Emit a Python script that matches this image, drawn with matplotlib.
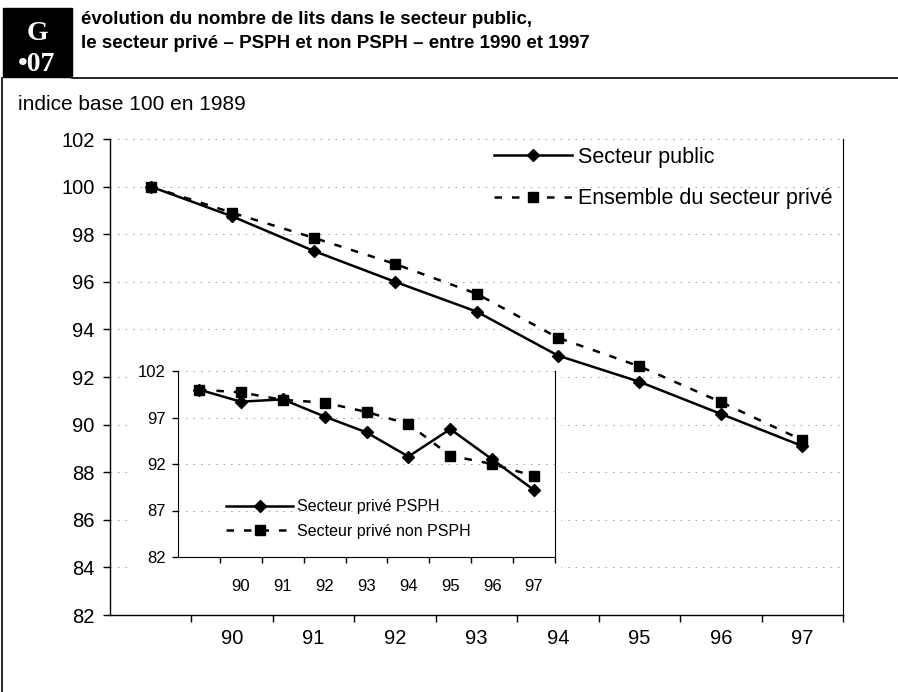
import matplotlib
matplotlib.use("Agg")
import matplotlib.pyplot as plt
from matplotlib.patches import Rectangle
from matplotlib.lines import Line2D

plt.rcParams['font.family'] = ['Liberation Sans', 'DejaVu Sans']

# ---- data ----
categories = ['', '90', '91', '92', '93', '94', '95', '96', '97']
public = [100, 98.75, 97.3, 96.0, 94.75, 92.9, 91.8, 90.45, 89.1]
prive_total = [100, 98.9, 97.85, 96.75, 95.5, 93.65, 92.45, 90.95, 89.35]
psph = [100, 98.7, 98.95, 97.1, 95.4, 92.8, 95.75, 92.5, 89.2]
non_psph = [100, 99.7, 98.9, 98.6, 97.6, 96.3, 92.9, 92.0, 90.7]
main_yticks = [82, 84, 86, 88, 90, 92, 94, 96, 98, 100, 102]
inset_yticks = [82, 87, 92, 97, 102]

W, H = 898, 692
fig = plt.figure(figsize=(W / 100, H / 100), dpi=100)

def fx(px):
    return px / W

def fy(py):
    return 1 - py / H

# ---- header ----
fig.patches.append(Rectangle((fx(3), fy(77)), fx(69), (77 - 8) / H,
                             transform=fig.transFigure, color='black', zorder=5))
fig.text(fx(37), fy(40), 'G', color='white', family='Liberation Serif',
         fontweight='bold', fontsize=20, ha='center', va='baseline', zorder=6)
fig.text(fx(37), fy(71), '•07', color='white', family='Liberation Serif',
         fontweight='bold', fontsize=20, ha='center', va='baseline', zorder=6)
fig.text(fx(81), fy(19), 'évolution du nombre de lits dans le secteur public,',
         fontsize=13.5, fontweight='bold', ha='left', va='center')
fig.text(fx(81), fy(43), 'le secteur privé – PSPH et non PSPH – entre 1990 et 1997',
         fontsize=13.5, fontweight='bold', ha='left', va='center')
fig.lines.append(Line2D([fx(72), 1], [fy(78), fy(78)], transform=fig.transFigure,
                        color='black', lw=1.2))
fig.lines.append(Line2D([fx(2), fx(2)], [fy(78), 0], transform=fig.transFigure,
                        color='black', lw=1.2))
fig.text(fx(18), fy(105), 'indice base 100 en 1989', fontsize=15, ha='left', va='center')

# ---- main axes ----
ax = fig.add_axes([fx(110), fy(615), fx(843 - 110), (615 - 139) / H])
x = list(range(len(categories)))
ax.plot(x, public, color='black', lw=1.8, marker='D', ms=6, label='Secteur public', zorder=3)
ax.plot(x, prive_total, color='black', lw=1.8, ls=(0, (3, 4)), marker='s', ms=7,
        label='Ensemble du secteur privé', zorder=3)
ax.set_xlim(-0.5, len(categories) - 0.5)
ax.set_ylim(82, 102)
ax.set_yticks(main_yticks)
ax.set_yticklabels([str(v) for v in main_yticks], fontsize=14.5)
ax.set_xticks([i + 0.5 for i in range(len(categories) - 1)] + [len(categories) - 0.5])
ax.set_xticklabels([])
ax.set_xticks(x, minor=True)
ax.set_xticklabels(categories, minor=True, fontsize=14.5)
ax.tick_params(axis='x', which='major', direction='out', length=5, width=1)
ax.tick_params(axis='x', which='minor', length=0, pad=10)
ax.tick_params(axis='y', direction='out', length=5, width=1, pad=6)
ax.grid(axis='y', color='#999999', lw=0.6, ls=(0, (2, 7)))
ax.spines['top'].set_visible(False)
ax.spines['right'].set_linewidth(0.8)
ax.spines['left'].set_linewidth(1.0)
ax.spines['bottom'].set_linewidth(1.0)
ax.legend(loc='upper left', bbox_to_anchor=(fx(494 - 110) / fx(843 - 110), 1 - (147 - 139) / (615 - 139)),
          frameon=False, fontsize=15.5, borderpad=0, borderaxespad=0,
          handlelength=3.6, handletextpad=0.3, labelspacing=0.95)

# white background behind inset
fig.patches.append(Rectangle((fx(128), fy(600)), fx(560 - 128), (600 - 366) / H,
                             transform=fig.transFigure, color='white', zorder=2))

# ---- inset ----
ai = fig.add_axes([fx(178), fy(557), fx(555 - 178), (557 - 371) / H], zorder=3)
ai.plot(x, psph, color='black', lw=1.8, marker='D', ms=6, label='Secteur privé PSPH', zorder=3)
ai.plot(x, non_psph, color='black', lw=1.8, ls=(0, (3, 4)), marker='s', ms=7.5,
        label='Secteur privé non PSPH', zorder=3)
ai.set_xlim(-0.5, len(categories) - 0.5)
ai.set_ylim(82, 102)
ai.set_yticks(inset_yticks)
ai.set_yticklabels([str(v) for v in inset_yticks], fontsize=12)
ai.set_xticks([i + 0.5 for i in range(len(categories) - 1)] + [len(categories) - 0.5])
ai.set_xticklabels([])
ai.set_xticks(x, minor=True)
ai.set_xticklabels(categories, minor=True, fontsize=12)
ai.tick_params(axis='x', which='major', direction='out', length=4, width=1)
ai.tick_params(axis='x', which='minor', length=0, pad=16)
ai.tick_params(axis='y', direction='out', length=4, width=1, pad=5)
ai.grid(axis='y', color='#999999', lw=0.6, ls=(0, (2, 7)))
ai.spines['top'].set_visible(False)
ai.spines['right'].set_linewidth(0.8)
ai.legend(loc='lower left', bbox_to_anchor=(0.09, 0.02), frameon=False, fontsize=11.5,
          handlelength=4.2, handletextpad=0.2, labelspacing=0.6)

fig.savefig('out.png', dpi=100)
